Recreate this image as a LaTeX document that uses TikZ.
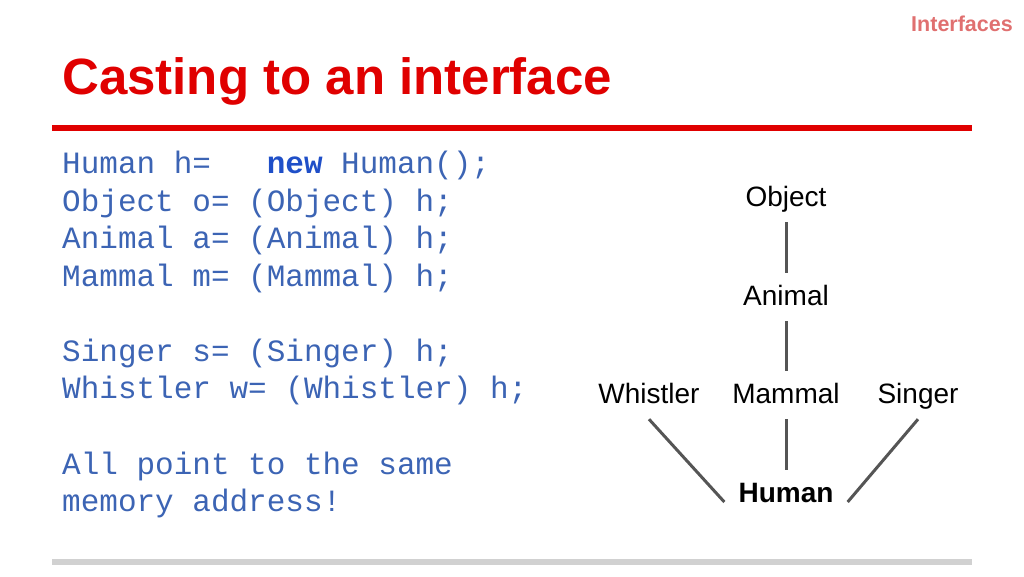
\documentclass[tikz,border=0pt]{standalone}
\usepackage{fontspec}
\setmainfont{Liberation Sans}
\newfontfamily\codefont{Liberation Mono}
\definecolor{codeblue}{HTML}{3C64B4}
\definecolor{kwblue}{HTML}{1F4FC8}
\definecolor{titlered}{HTML}{E00000}
\definecolor{hdr}{HTML}{E07070}
\definecolor{edge}{HTML}{555555}
\tikzset{
  code/.style={anchor=west,inner sep=0pt,text=codeblue,font=\codefont\fontsize{31}{31}\selectfont},
  tn/.style={inner sep=0pt,text height=20pt,text depth=6pt,font=\fontsize{28}{28}\selectfont},
  link/.style={draw=edge,line width=3pt}
}
\begin{document}
\begin{tikzpicture}[x=1pt,y=-1pt]
\useasboundingbox (0,0) rectangle (1024,576);
\node[anchor=east,inner sep=0pt,text=hdr,font=\bfseries\fontsize{21.5}{21.5}\selectfont] (hd) at (1013,24) {Interfaces};
\node[anchor=west,inner sep=0pt,text=titlered,font=\bfseries\fontsize{51}{51}\selectfont] (title) at (62,81) {Casting to an interface};
\fill[titlered] (52,125) rectangle (972,131);
\fill[black!18] (52,559) rectangle (972,565);
\node[code] (c1) at (62,165) {Human h=\ \ \ {\color{kwblue}\bfseries new} Human();};
\node[code] (c2) at (62,203) {Object o= (Object) h;};
\node[code] (c3) at (62,240) {Animal a= (Animal) h;};
\node[code] (c4) at (62,278) {Mammal m= (Mammal) h;};
\node[code] (c5) at (62,353) {Singer s= (Singer) h;};
\node[code] (c6) at (62,390) {Whistler w= (Whistler) h;};
\node[code] (c7) at (62,466) {All point to the same};
\node[code] (c8) at (62,503) {memory address!};
\node[tn] (obj) at (786,199) {Object};
\node[tn] (ani) at (786,298) {Animal};
\node[tn] (wh) at (649,396) {Whistler};
\node[tn] (mam) at (786,396) {Mammal};
\node[tn] (sing) at (918,396) {Singer};
\node[tn,font=\bfseries\fontsize{28}{28}\selectfont] (hum) at (786,495) {Human};
\draw[link] ([yshift=-10pt]obj.south) -- ([yshift=12pt]ani.north);
\draw[link] ([yshift=-10pt]ani.south) -- ([yshift=12pt]mam.north);
\draw[link] ([yshift=-10pt]mam.south) -- ([yshift=12pt]hum.north);
\draw[link] ([yshift=-10pt]wh.south) -- ([xshift=-14pt,yshift=-7pt]hum.west);
\draw[link] ([yshift=-10pt]sing.south) -- ([xshift=14pt,yshift=-7pt]hum.east);
\end{tikzpicture}
\end{document}
